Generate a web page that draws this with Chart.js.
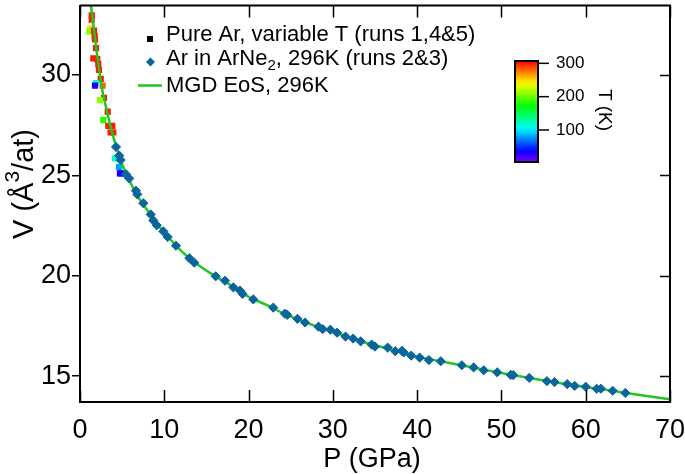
<!DOCTYPE html>
<html>
<head>
<meta charset="utf-8">
<script src="https://cdn.jsdelivr.net/npm/chart.js@4.4.0/dist/chart.umd.min.js"></script>
<style>
  html, body { margin: 0; padding: 0; background: #fff; }
  #wrap { width: 685px; height: 474px; }
</style>
</head>
<body>
<div id="wrap"><canvas id="eosChart"></canvas></div>
<script>
// Pure Ar, variable T (runs 1,4&5)
const pureP = [1.39, 1.39, 1.19, 1.10, 1.66, 1.74, 1.78, 1.90, 1.58, 2.05, 2.17, 2.25, 2.46, 1.90,
               1.78, 2.69, 2.85, 2.37, 3.29, 2.76, 3.36, 3.83, 3.64, 3.95, 4.15, 4.63, 4.74, 4.92];
const pureV = [32.97, 32.75, 32.31, 32.15, 32.21, 31.93, 31.77, 31.33, 30.82, 30.79, 30.54, 30.25, 29.80, 29.59,
               29.46, 29.47, 28.85, 28.74, 28.17, 27.75, 27.46, 27.46, 27.13, 27.13, 25.84, 25.41, 25.10, 25.10];
const pureT = [300, 300, 250, 210, 300, 300, 300, 300, 300, 300, 300, 300, 300, 120,
               30, 280, 300, 210, 300, 180, 300, 300, 300, 300, 120, 80, 30, 30];

// Ar in ArNe2, 296K (runs 2&3)
const mixP = [4.27, 4.66, 4.83, 5.46, 5.85, 6.64, 6.80, 7.51, 8.39, 8.70, 9.10, 9.88, 10.40, 11.39,
              12.97, 13.56, 16.10, 17.20, 18.19, 18.98, 19.30, 20.56, 22.93, 24.30, 24.59, 25.8, 26.7, 28.3,
              28.8, 29.7, 30.5, 31.5, 32.4, 33.3, 34.6, 35.0, 36.5, 37.4, 38.2, 38.4, 39.3, 40.3,
              41.4, 42.8, 45.3, 46.7, 47.9, 49.5, 51.1, 51.4, 53.3, 55.4, 56.3, 57.8, 58.7, 60.0,
              61.3, 61.8, 63.2, 64.7];
const mixV = [26.41, 25.98, 25.76, 25.05, 24.84, 24.23, 24.05, 23.61, 23.05, 22.75, 22.51, 22.21, 21.93, 21.49,
              20.87, 20.65, 19.97, 19.75, 19.42, 19.26, 19.09, 18.82, 18.41, 18.11, 18.05, 17.85, 17.67, 17.46,
              17.34, 17.31, 17.16, 16.97, 16.87, 16.73, 16.57, 16.47, 16.42, 16.24, 16.26, 16.18, 16.02, 15.92,
              15.80, 15.74, 15.54, 15.43, 15.29, 15.19, 15.06, 15.05, 14.91, 14.75, 14.70, 14.60, 14.51, 14.47,
              14.37, 14.37, 14.27, 14.16];

// MGD EoS, 296K
const eosP = [1.2, 1.3, 1.55, 1.78, 2.0, 2.25, 2.6, 3.0, 3.5, 4.0, 4.5, 5.0, 5.9, 7.0, 8.0, 9.0, 10,
              12, 14, 16, 18, 20, 22, 24, 26, 28, 30, 32, 34, 36, 38, 40, 43, 46, 50, 54, 58, 62, 66, 70];
const eosV = [34.0, 33.49, 32.6, 31.85, 31.1, 30.3, 29.35, 28.55, 27.65, 26.85, 26.15, 25.55, 24.7, 23.85, 23.25,
              22.65, 22.15, 21.24, 20.55, 19.99, 19.5, 18.95, 18.57, 18.15, 17.8, 17.48, 17.2, 16.92, 16.65,
              16.42, 16.2, 15.96, 15.72, 15.48, 15.15, 14.86, 14.58, 14.34, 14.08, 13.85];

const xTicks = [0, 10, 20, 30, 40, 50, 60, 70];
const yTicks = [15, 20, 25, 30];
const tTicks = [100, 200, 300];

// colour scale range (K)
const T_MIN = 4, T_MAX = 307;
function tempColor(t) {
  const f = Math.min(1, Math.max(0, (T_MAX - t) / (T_MAX - T_MIN)));
  return 'hsl(' + (270 * f).toFixed(1) + ',100%,50%)';
}

const pts = (xs, ys) => xs.map((x, i) => ({ x: x, y: ys[i] }));

const FONT = 'Arial, "Liberation Sans", Helvetica, sans-serif';

const decorations = {
  id: 'decorations',
  afterDraw(chart) {
    const ctx = chart.ctx;
    const a = chart.chartArea;
    const xs = chart.scales.x, ys = chart.scales.y;
    ctx.save();
    ctx.strokeStyle = '#000';
    ctx.fillStyle = '#000';

    // top and right frame
    ctx.lineWidth = 2;
    ctx.beginPath();
    ctx.moveTo(a.left, a.top);
    ctx.lineTo(a.right, a.top);
    ctx.lineTo(a.right, a.bottom);
    ctx.stroke();

    // inward ticks: bottom, top, right
    ctx.lineWidth = 1.5;
    ctx.beginPath();
    xTicks.forEach(v => {
      const px = Math.round(xs.getPixelForValue(v)) + 0.5;
      ctx.moveTo(px, a.bottom); ctx.lineTo(px, a.bottom - 12);
      ctx.moveTo(px, a.top); ctx.lineTo(px, a.top + 12);
    });
    yTicks.forEach(v => {
      const py = Math.round(ys.getPixelForValue(v)) + 0.5;
      ctx.moveTo(a.right, py); ctx.lineTo(a.right - 10, py);
    });
    ctx.stroke();

    // axis titles
    ctx.font = '27px ' + FONT;
    ctx.textAlign = 'center';
    ctx.textBaseline = 'middle';
    ctx.fillText('P (GPa)', 372, 460);

    ctx.save();
    ctx.translate(33, 184);
    ctx.rotate(-Math.PI / 2);
    ctx.textBaseline = 'alphabetic';
    ctx.textAlign = 'left';
    const big = '29px ' + FONT, sup = '21px ' + FONT;
    ctx.font = big; const w1 = ctx.measureText('V (Å').width;
    ctx.font = sup; const w2 = ctx.measureText('3').width;
    ctx.font = big; const w3 = ctx.measureText('/at)').width;
    let sx = -(w1 + w2 + w3) / 2;
    ctx.font = big; ctx.fillText('V (Å', sx, 0); sx += w1;
    ctx.font = sup; ctx.fillText('3', sx, -14); sx += w2;
    ctx.font = big; ctx.fillText('/at)', sx, 0);
    ctx.restore();

    // legend
    ctx.textAlign = 'left';
    ctx.textBaseline = 'alphabetic';
    ctx.font = '22px ' + FONT;
    ctx.fillStyle = '#000';
    ctx.fillRect(147, 36, 6, 6);
    ctx.fillText('Pure Ar, variable T (runs 1,4&5)', 166, 41);

    ctx.fillStyle = '#0a659b';
    ctx.beginPath();
    ctx.moveTo(146, 62); ctx.lineTo(150.5, 57.5); ctx.lineTo(155, 62); ctx.lineTo(150.5, 66.5);
    ctx.closePath(); ctx.fill();
    ctx.fillStyle = '#000';
    let lx = 166;
    ctx.fillText('Ar in ArNe', lx, 65); lx += ctx.measureText('Ar in ArNe').width;
    ctx.font = '15px ' + FONT;
    ctx.fillText('2', lx, 70); lx += ctx.measureText('2').width;
    ctx.font = '22px ' + FONT;
    ctx.fillText(', 296K (runs 2&3)', lx, 65);

    ctx.strokeStyle = '#1ec81e';
    ctx.lineWidth = 2.5;
    ctx.beginPath(); ctx.moveTo(138, 85.5); ctx.lineTo(162, 85.5); ctx.stroke();
    ctx.fillText('MGD EoS, 296K', 166, 91.5);

    // colour bar
    const cb = { left: 515, right: 538, top: 61, bottom: 162 };
    const grad = ctx.createLinearGradient(0, cb.top, 0, cb.bottom);
    for (let i = 0; i <= 20; i++) {
      const t = T_MAX - (T_MAX - T_MIN) * i / 20;
      grad.addColorStop(i / 20, tempColor(t));
    }
    ctx.fillStyle = grad;
    ctx.fillRect(cb.left, cb.top, cb.right - cb.left, cb.bottom - cb.top);
    ctx.strokeStyle = '#000';
    ctx.lineWidth = 2;
    ctx.strokeRect(cb.left, cb.top, cb.right - cb.left, cb.bottom - cb.top);
    ctx.lineWidth = 1.5;
    ctx.fillStyle = '#000';
    ctx.font = '17px ' + FONT;
    ctx.textBaseline = 'middle';
    tTicks.forEach(t => {
      const py = cb.top + (T_MAX - t) / (T_MAX - T_MIN) * (cb.bottom - cb.top);
      ctx.beginPath(); ctx.moveTo(cb.right, py); ctx.lineTo(cb.right + 11, py); ctx.stroke();
      ctx.fillText(String(t), 556, py);
    });
    ctx.save();
    ctx.translate(604, 110);
    ctx.rotate(Math.PI / 2);
    ctx.textAlign = 'center';
    ctx.font = '19px ' + FONT;
    ctx.fillText('T (K)', 0, 0);
    ctx.restore();

    ctx.restore();
  }
};

const ctx = document.getElementById('eosChart').getContext('2d');
new Chart(ctx, {
  type: 'scatter',
  data: {
    datasets: [
      {
        label: 'Ar in ArNe2, 296K (runs 2&3)',
        data: pts(mixP, mixV),
        pointStyle: 'rectRot',
        pointRadius: 4.6,
        pointBackgroundColor: '#0a659b',
        pointBorderColor: '#0a659b',
        pointBorderWidth: 1,
        order: 0
      },
      {
        label: 'MGD EoS, 296K',
        data: pts(eosP, eosV),
        showLine: true,
        borderColor: '#1ec81e',
        borderWidth: 2.5,
        pointRadius: 0,
        cubicInterpolationMode: 'monotone',
        order: 1
      },
      {
        label: 'Pure Ar, variable T (runs 1,4&5)',
        data: pts(pureP, pureV),
        pointStyle: 'rect',
        pointRadius: 4.4,
        pointBackgroundColor: pureT.map(tempColor),
        pointBorderWidth: 0,
        order: 2
      }
    ]
  },
  options: {
    responsive: true,
    maintainAspectRatio: false,
    animation: false,
    events: [],
    layout: { padding: { top: 1, right: 15, left: 0, bottom: 0 } },
    plugins: {
      legend: { display: false },
      tooltip: { enabled: false }
    },
    scales: {
      x: {
        type: 'linear',
        min: 0,
        max: 70,
        afterFit: s => { s.height = 72; s.paddingLeft = 0; s.paddingRight = 0; },
        afterBuildTicks: s => { s.ticks = xTicks.map(v => ({ value: v })); },
        grid: { drawOnChartArea: false, drawTicks: false },
        border: { display: true, color: '#000', width: 2 },
        ticks: { color: '#000', font: { family: FONT, size: 27 }, padding: 12, maxRotation: 0 }
      },
      y: {
        type: 'linear',
        min: 13.71,
        max: 33.45,
        afterFit: s => { s.width = 80; s.paddingTop = 0; s.paddingBottom = 0; },
        afterBuildTicks: s => { s.ticks = yTicks.map(v => ({ value: v })); },
        grid: { drawOnChartArea: false, drawTicks: true, tickLength: 8, color: '#000', lineWidth: 1.5 },
        border: { display: true, color: '#000', width: 2 },
        ticks: { color: '#000', font: { family: FONT, size: 27 }, padding: 1 }
      }
    }
  },
  plugins: [decorations]
});
</script>
</body>
</html>
